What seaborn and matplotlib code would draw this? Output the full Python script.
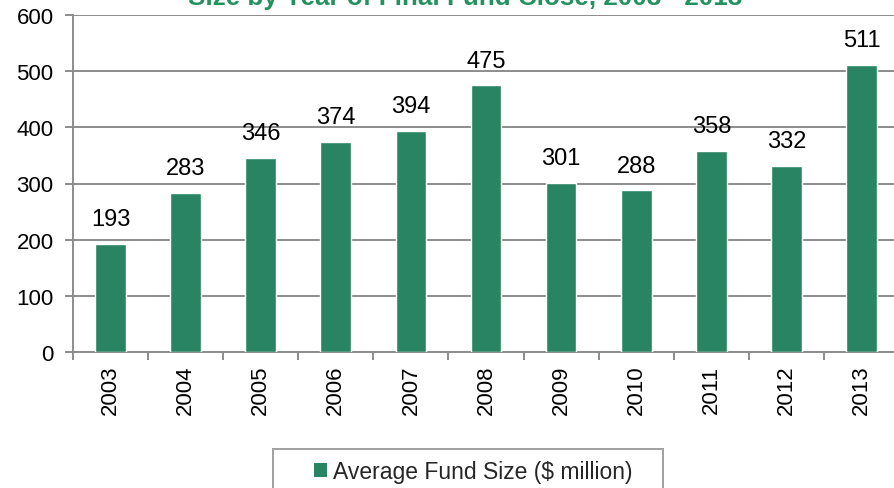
import matplotlib
matplotlib.use("Agg")
import matplotlib.pyplot as plt
import seaborn as sns
import pandas as pd
from matplotlib.patches import Patch, Rectangle

years = ["2003", "2004", "2005", "2006", "2007", "2008", "2009", "2010", "2011", "2012", "2013"]
fund_size = [193, 283, 346, 374, 394, 475, 301, 288, 358, 332, 511]
series_name = "Average Fund Size ($ million)"
title_text = "Size by Year of Final Fund Close, 2003 - 2013"

bar_color = "#298463"
title_color = "#24925f"
grid_color = "#8c8c8c"

sns.set_theme(style="white")
plt.rcParams['font.family'] = ['Liberation Sans', 'DejaVu Sans']

df = pd.DataFrame({"Year": years, "Size": fund_size})

fig = plt.figure(figsize=(8.94, 4.89), dpi=100)
ax = fig.add_axes([73 / 894, 1 - 353 / 489, 826 / 894, 337 / 489])

sns.barplot(data=df, x="Year", y="Size", color=bar_color, width=0.41,
            saturation=1, ax=ax, zorder=3)

ax.set_ylim(0, 600)
ax.set_xlim(-0.5, len(years) - 0.5)
ax.set_yticks(range(0, 601, 100))
ax.yaxis.grid(True, color=grid_color, linewidth=1.4, zorder=0)
ax.set_axisbelow(True)
ax.set_xlabel("")
ax.set_ylabel("")

for s in ["top", "right"]:
    ax.spines[s].set_visible(False)
for s in ["left", "bottom"]:
    ax.spines[s].set_color(grid_color)
    ax.spines[s].set_linewidth(1.4)

# category boundary ticks on the x axis
ax.set_xticks([i - 0.5 for i in range(len(years) + 1)], minor=True)
ax.tick_params(axis="x", which="minor", length=6, width=1.4, color=grid_color, direction="out", bottom=True)
ax.tick_params(axis="x", which="major", length=0, labelsize=16, pad=9, labelrotation=90)
ax.tick_params(axis="y", length=6, width=1.4, color=grid_color, direction="out", left=True, labelsize=16, pad=8)
for lbl in ax.get_yticklabels() + ax.get_xticklabels():
    lbl.set_color("black")

for i, v in enumerate(fund_size):
    ax.annotate(str(v), (i, v), xytext=(0, 13.4), textcoords="offset points",
                ha="center", va="baseline", fontsize=17, color="black")

# title is partly cut off at the top edge in the source
fig.text(465 / 894, 1 - 4.5 / 489, title_text, ha="center", va="baseline",
         fontsize=18.7, fontweight="bold", color=title_color)

# legend box (wider than its content, as in the source)
box = Rectangle((273 / 894, 1 - 495 / 489), 390 / 894, 45 / 489, transform=fig.transFigure,
                fill=False, edgecolor="#a0a0a0", linewidth=1.4)
fig.patches.append(box)

handle = Patch(facecolor=bar_color, edgecolor="none")
leg = fig.legend([handle], [series_name], loc="center left",
                 bbox_to_anchor=(314 / 894, 1 - 473 / 489), frameon=False,
                 fontsize=16.5, handlelength=0.57, handleheight=0.55,
                 handletextpad=0.26, borderpad=0, borderaxespad=0)

fig.savefig("out.png", dpi=100)
